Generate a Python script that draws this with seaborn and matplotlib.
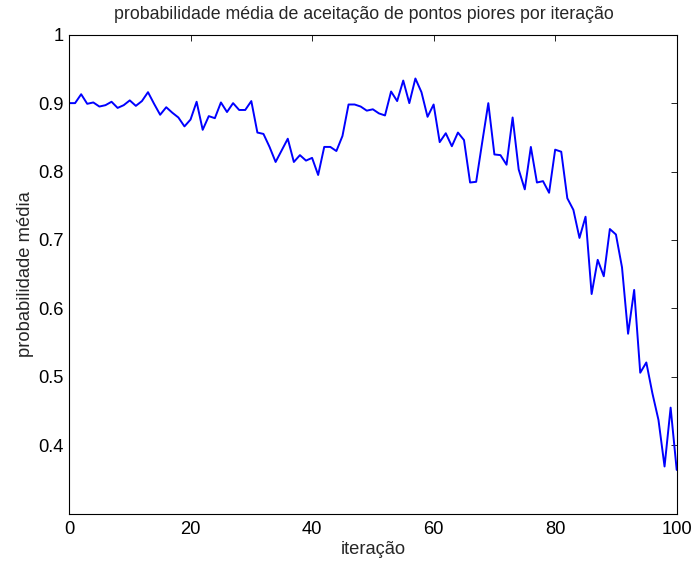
import matplotlib
matplotlib.use("Agg")
import matplotlib.pyplot as plt
import seaborn as sns
import pandas as pd

# mean acceptance probability of worse points, one value per iteration
iteracao = list(range(0, 101))
probabilidade = [
    0.900, 0.900, 0.913, 0.899, 0.901, 0.895, 0.897, 0.902, 0.893, 0.897,
    0.904, 0.896, 0.903, 0.916, 0.899, 0.883, 0.894, 0.886, 0.879, 0.866,
    0.876, 0.902, 0.861, 0.881, 0.878, 0.901, 0.887, 0.900, 0.890, 0.890,
    0.903, 0.857, 0.855, 0.836, 0.814, 0.831, 0.848, 0.814, 0.824, 0.816,
    0.820, 0.795, 0.836, 0.836, 0.830, 0.852, 0.898, 0.898, 0.895, 0.889,
    0.891, 0.885, 0.882, 0.917, 0.903, 0.933, 0.900, 0.936, 0.916, 0.880,
    0.898, 0.843, 0.856, 0.837, 0.857, 0.846, 0.784, 0.785, 0.843, 0.900,
    0.825, 0.824, 0.810, 0.879, 0.803, 0.774, 0.836, 0.784, 0.786, 0.769,
    0.832, 0.829, 0.761, 0.744, 0.703, 0.734, 0.621, 0.671, 0.647, 0.716,
    0.708, 0.660, 0.563, 0.627, 0.506, 0.521, 0.476, 0.437, 0.369, 0.455,
    0.364,
]

x_ticks = [0, 20, 40, 60, 80, 100]
y_ticks = [0.4, 0.5, 0.6, 0.7, 0.8, 0.9, 1.0]
y_tick_labels = ["0.4", "0.5", "0.6", "0.7", "0.8", "0.9", "1"]

sns.set_style("white")
plt.rcParams["font.family"] = ["Liberation Sans", "DejaVu Sans"]

df = pd.DataFrame({"iteracao": iteracao, "prob": probabilidade})

fig = plt.figure(figsize=(6.93, 5.65), dpi=100)
ax = fig.add_axes([69 / 693, 1 - 513.7 / 565, (676.7 - 69) / 693, (513.7 - 34.7) / 565])

sns.lineplot(data=df, x="iteracao", y="prob", ax=ax, color="#0000ff", linewidth=1.4)

ax.set_xlim(0, 100)
ax.set_ylim(0.3, 1.0)
ax.set_xticks(x_ticks)
ax.set_yticks(y_ticks)
ax.set_yticklabels(y_tick_labels)
ax.tick_params(direction="in", length=4.5, width=0.6, top=True, right=True,
               labelsize=13.2, colors="black")
ax.tick_params(axis="x", pad=5.5)
ax.tick_params(axis="y", pad=4)
for side in ax.spines.values():
    side.set_visible(True)
    side.set_color("black")
    side.set_linewidth(0.8)

ax.set_title("probabilidade média de aceitação de pontos piores por iteração",
             fontsize=12.8, pad=11, x=0.486)
ax.set_xlabel("iteração", fontsize=13.2, labelpad=2)
ax.set_ylabel("probabilidade média", fontsize=13.2, labelpad=3)

fig.savefig("out.png", dpi=100)
